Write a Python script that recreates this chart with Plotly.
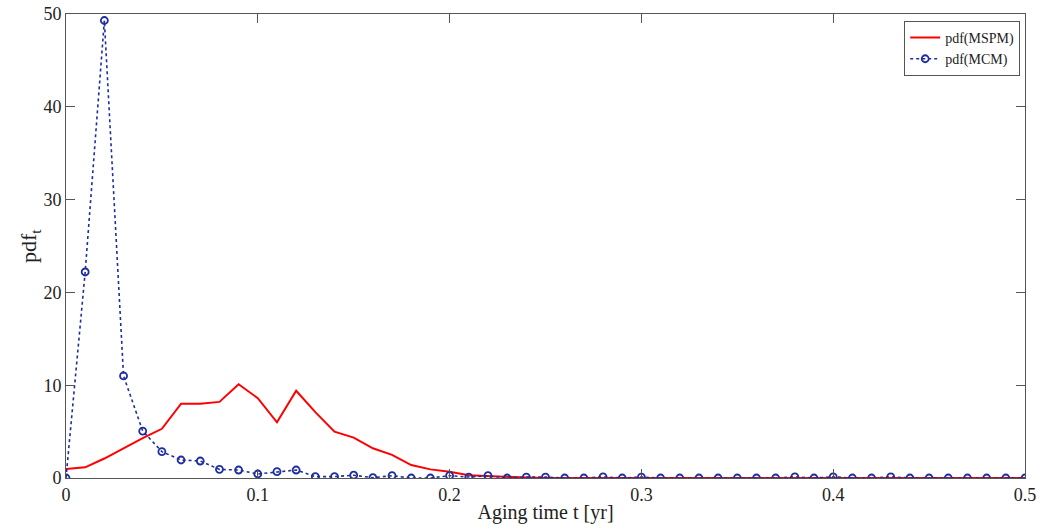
import plotly.graph_objects as go

t = [round(0.01 * i, 2) for i in range(51)]

pdf_mspm = [0.97, 1.15, 2.1, 3.2, 4.3, 5.3, 8.0, 8.0, 8.2, 10.1,
            8.6, 6.0, 9.4, 7.1, 5.0, 4.35, 3.2, 2.5, 1.4, 0.93,
            0.68, 0.3, 0.2, 0.1, 0.05, 0.0, 0.0, 0.0, 0.0, 0.0,
            0.0, 0.0, 0.0, 0.0, 0.0, 0.0, 0.0, 0.0, 0.0, 0.0,
            0.0, 0.0, 0.0, 0.0, 0.0, 0.0, 0.0, 0.0, 0.0, 0.0, 0.0]

pdf_mcm = [0.0, 22.2, 49.3, 11.0, 5.06, 2.84, 1.94, 1.83, 0.93, 0.86,
           0.43, 0.68, 0.86, 0.15, 0.15, 0.3, 0.03, 0.25, 0.0, 0.0,
           0.25, 0.1, 0.25, 0.0, 0.1, 0.1, 0.0, 0.0, 0.12, 0.0,
           0.1, 0.0, 0.0, 0.0, 0.0, 0.0, 0.0, 0.0, 0.12, 0.0,
           0.12, 0.0, 0.0, 0.12, 0.0, 0.0, 0.0, 0.0, 0.0, 0.0, 0.0]

x_ticks = [0, 0.1, 0.2, 0.3, 0.4, 0.5]
x_tick_labels = ["0", "0.1", "0.2", "0.3", "0.4", "0.5"]
y_ticks = [0, 10, 20, 30, 40, 50]
y_tick_labels = ["0", "10", "20", "30", "40", "50"]

font_family = "Liberation Serif, Times New Roman, serif"
blue = "rgb(30,45,160)"
frame = "#555555"

fig = go.Figure()
fig.add_trace(go.Scatter(
    x=t, y=pdf_mspm, mode="lines", name="pdf(MSPM)",
    line=dict(color="red", width=2),
))
fig.add_trace(go.Scatter(
    x=t, y=pdf_mcm, mode="lines+markers", name="pdf(MCM)",
    line=dict(color=blue, width=1.6, dash="dot"),
    marker=dict(symbol="circle-open", size=7, color=blue, line=dict(width=1.8, color=blue)),
))

axis_common = dict(
    showgrid=False, zeroline=False, automargin=False,
    showline=True, linecolor=frame, linewidth=1, mirror="ticks",
    ticks="inside", ticklen=9, tickcolor=frame,
    tickfont=dict(family=font_family, size=18, color="#222"),
)

fig.update_layout(
    width=1038, height=524,
    margin=dict(l=66, r=13, t=14, b=46),
    paper_bgcolor="white", plot_bgcolor="white",
    font=dict(family=font_family, color="#222"),
    xaxis=dict(range=[0, 0.5], tickvals=x_ticks, ticktext=x_tick_labels,
               title=dict(text="Aging time t [yr]", font=dict(family=font_family, size=20)),
               **axis_common),
    yaxis=dict(range=[0, 50], tickvals=y_ticks, ticktext=y_tick_labels,
               **axis_common),
    legend=dict(x=0.995, y=0.985, xanchor="right", yanchor="top",
                bgcolor="white", bordercolor=frame, borderwidth=1,
                font=dict(family=font_family, size=14, color="#222"),
                tracegroupgap=0, itemwidth=30),
    showlegend=True,
    annotations=[dict(text="pdf<sub>t</sub>", xref="paper", yref="paper",
                      x=-0.0375, y=0.5, xanchor="center", yanchor="middle",
                      textangle=-90, showarrow=False,
                      font=dict(family=font_family, size=22, color="#222"))],
)

fig.write_html("out.html", config={"displayModeBar": False},
               post_script="document.body.style.margin='0';document.body.style.overflow='hidden';")
